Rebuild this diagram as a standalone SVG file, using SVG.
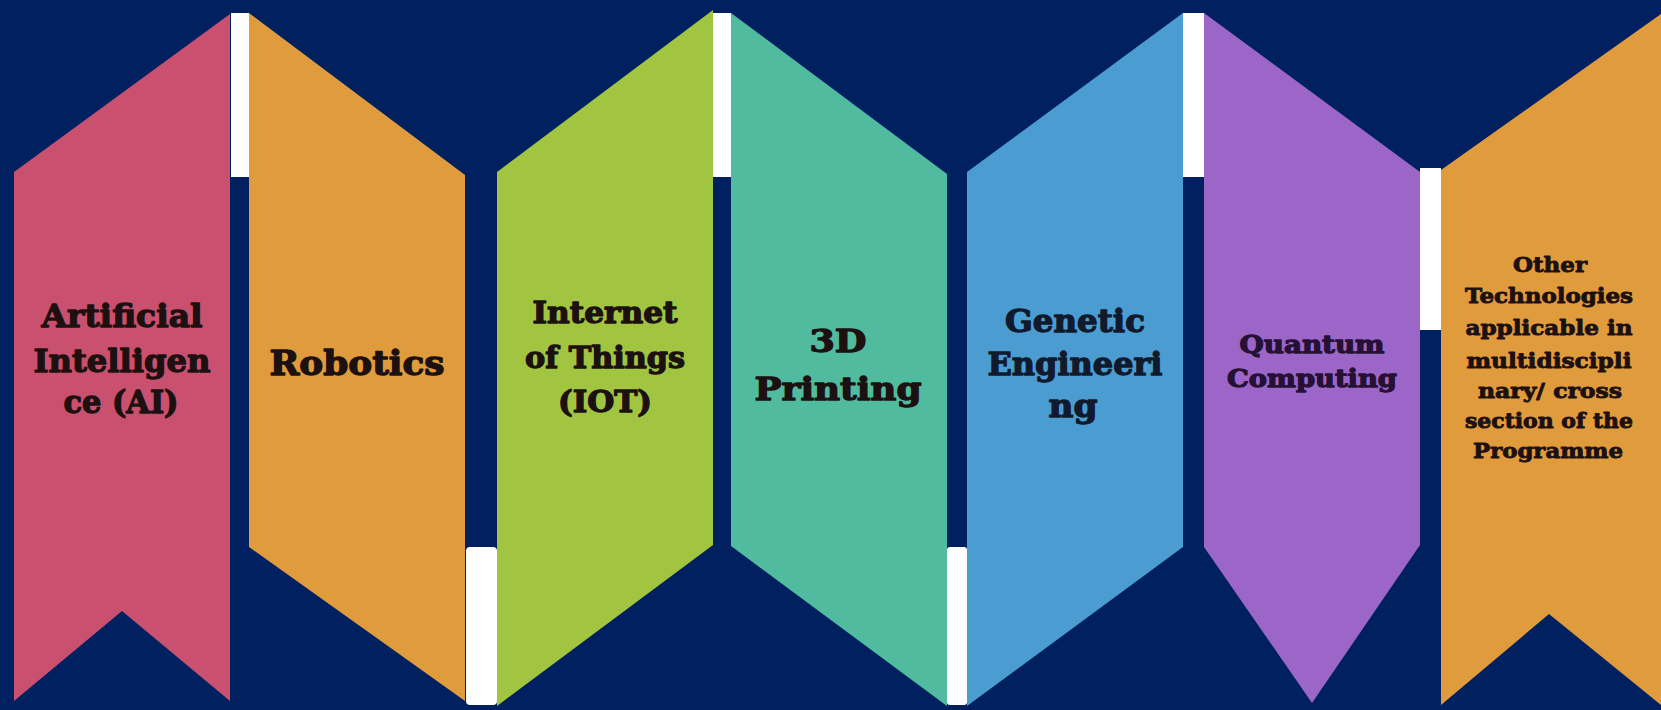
<svg xmlns="http://www.w3.org/2000/svg" width="1661" height="710" viewBox="0 0 1661 710">
<style>
.t{font-family:"DejaVu Serif","Liberation Serif",serif;font-weight:bold;fill:#1c1010;stroke:#1c1010;stroke-width:1.3;stroke-linejoin:round;text-anchor:middle}
.s{stroke-width:0.9}
.bar{fill:#ffffff}
</style>
<rect x="0" y="0" width="1661" height="710" fill="#002060"/>
<g id="dividers">
<rect class="bar" x="231" y="13" width="18" height="164"/>
<rect class="bar" x="466" y="547" width="31" height="158" rx="4"/>
<rect class="bar" x="713" y="13" width="18" height="164"/>
<rect class="bar" x="947" y="547" width="20" height="158" rx="3"/>
<rect class="bar" x="1183" y="13" width="21" height="164"/>
<rect class="bar" x="1420" y="168" width="21" height="162"/>
</g>
<g id="node-ai">
<polygon points="14,172 230,14 230,701 122,611 14,701" fill="#c9506f"/>
<text class="t" font-size="32"><tspan x="122" y="327" textLength="161" lengthAdjust="spacingAndGlyphs">Artificial</tspan><tspan x="122" y="372" textLength="177" lengthAdjust="spacingAndGlyphs">Intelligen</tspan><tspan x="121" y="413" textLength="115" lengthAdjust="spacingAndGlyphs">ce (AI)</tspan></text>
</g>
<g id="node-robotics">
<polygon points="249,13 465,175 465,701 249,547" fill="#e09b3d"/>
<text class="t" font-size="33" x="357" y="375" textLength="175" lengthAdjust="spacingAndGlyphs">Robotics</text>
</g>
<g id="node-iot">
<polygon points="497,172 713,10 713,545 497,706" fill="#a1c540"/>
<text class="t" font-size="29"><tspan x="605" y="323" textLength="145" lengthAdjust="spacingAndGlyphs">Internet</tspan><tspan x="605" y="368" textLength="160" lengthAdjust="spacingAndGlyphs">of Things</tspan><tspan x="605" y="412" textLength="94" lengthAdjust="spacingAndGlyphs">(IOT)</tspan></text>
</g>
<g id="node-3d">
<polygon points="731,13 947,174 947,706 731,546" fill="#51bba0"/>
<text class="t" font-size="31"><tspan x="838" y="352" textLength="57" lengthAdjust="spacingAndGlyphs">3D</tspan><tspan x="838" y="400" textLength="167" lengthAdjust="spacingAndGlyphs">Printing</tspan></text>
</g>
<g id="node-genetic">
<polygon points="967,172 1183,13 1183,547 967,706" fill="#4b9cd0"/>
<text class="t" font-size="32" style="fill:#101a2c;stroke:#101a2c"><tspan x="1075" y="332" textLength="140" lengthAdjust="spacingAndGlyphs">Genetic</tspan><tspan x="1075" y="375" textLength="175" lengthAdjust="spacingAndGlyphs">Engineeri</tspan><tspan x="1073" y="417" textLength="49" lengthAdjust="spacingAndGlyphs">ng</tspan></text>
</g>
<g id="node-quantum">
<polygon points="1204,13 1420,172 1420,545 1312,703 1204,547" fill="#9b66c8"/>
<text class="t" font-size="25" style="fill:#261034;stroke:#261034"><tspan x="1312" y="353" textLength="145" lengthAdjust="spacingAndGlyphs">Quantum</tspan><tspan x="1312" y="387" textLength="170" lengthAdjust="spacingAndGlyphs">Computing</tspan></text>
</g>
<g id="node-other">
<polygon points="1441,170 1661,14 1661,705 1549,614 1441,705" fill="#e09b3d"/>
<text class="t s" font-size="21"><tspan x="1550" y="272" textLength="74" lengthAdjust="spacingAndGlyphs">Other</tspan><tspan x="1549" y="303" textLength="168" lengthAdjust="spacingAndGlyphs">Technologies</tspan><tspan x="1549" y="335" textLength="167" lengthAdjust="spacingAndGlyphs">applicable in</tspan><tspan x="1549" y="368" textLength="165" lengthAdjust="spacingAndGlyphs">multidiscipli</tspan><tspan x="1550" y="398" textLength="144" lengthAdjust="spacingAndGlyphs">nary/ cross</tspan><tspan x="1549" y="428" textLength="168" lengthAdjust="spacingAndGlyphs">section of the</tspan><tspan x="1548" y="458" textLength="150" lengthAdjust="spacingAndGlyphs">Programme</tspan></text>
</g>
</svg>
